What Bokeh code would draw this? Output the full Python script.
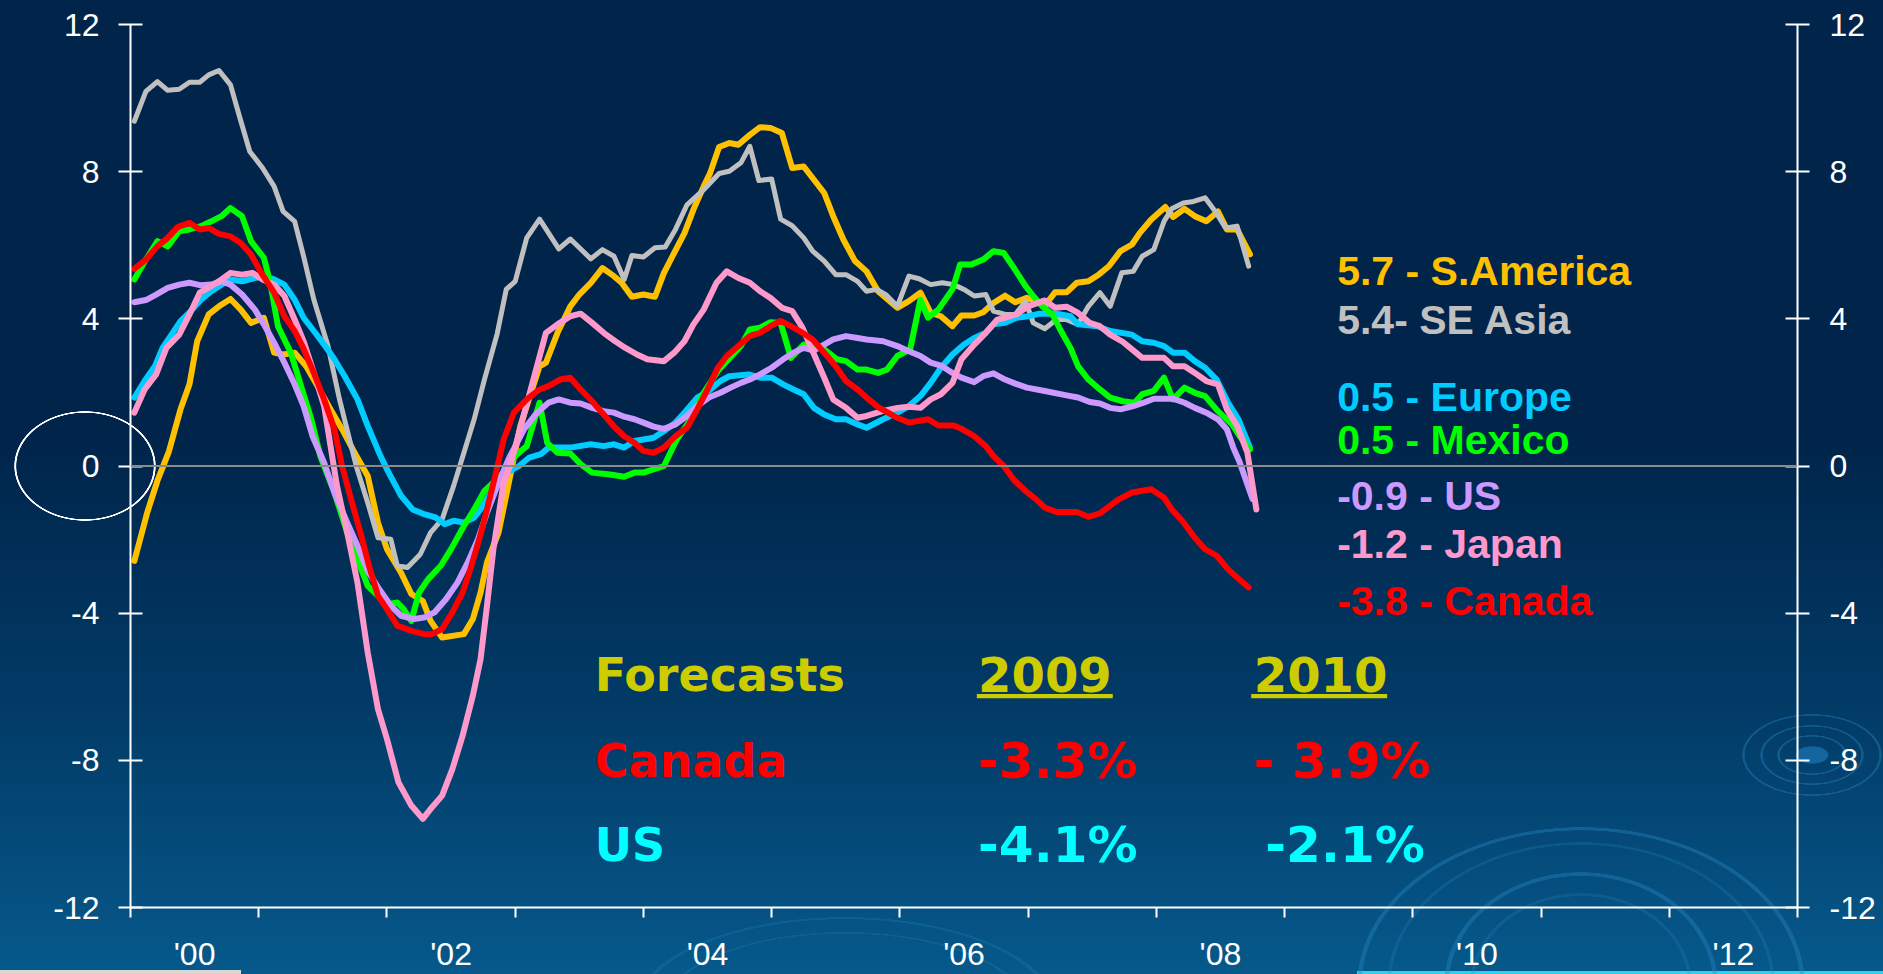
import numpy as np
from bokeh.plotting import figure
from bokeh.models import Range1d, LinearAxis, FixedTicker, Span, Label, BoxAnnotation
from bokeh.embed import file_html
from bokeh.resources import INLINE

# ---------------- data (decimal years, % y/y) ----------------
sam_x = [2000.03, 2000.13, 2000.21, 2000.30, 2000.39, 2000.46, 2000.52, 2000.61, 2000.69, 2000.78, 2000.86, 2000.94,
         2001.04, 2001.12, 2001.19, 2001.28, 2001.37, 2001.46, 2001.56, 2001.65, 2001.74, 2001.85, 2001.93, 2002.00,
         2002.11, 2002.19, 2002.28, 2002.34, 2002.43, 2002.60, 2002.67, 2002.73, 2002.78, 2002.87, 2002.94, 2003.04,
         2003.19, 2003.24, 2003.33, 2003.43, 2003.50, 2003.59, 2003.68, 2003.77, 2003.83, 2003.91, 2004.00, 2004.09,
         2004.16, 2004.24, 2004.32, 2004.39, 2004.47, 2004.52, 2004.59, 2004.67, 2004.74, 2004.83, 2004.91, 2004.99,
         2005.08, 2005.16, 2005.25, 2005.33, 2005.41, 2005.48, 2005.56, 2005.65, 2005.74, 2005.83, 2005.98, 2006.07,
         2006.16, 2006.24, 2006.32, 2006.41, 2006.48, 2006.58, 2006.65, 2006.73, 2006.82, 2006.90, 2006.99, 2007.07,
         2007.13, 2007.21, 2007.30, 2007.38, 2007.47, 2007.55, 2007.63, 2007.72, 2007.81, 2007.87, 2007.96, 2008.07,
         2008.13, 2008.22, 2008.30, 2008.39, 2008.48, 2008.55, 2008.63, 2008.73]
sam_y = [-2.58, -1.27, -0.4, 0.4, 1.54, 2.22, 3.39, 4.12, 4.34, 4.54, 4.25, 3.89,
         4.03, 3.08, 3.03, 3.08, 2.71, 2.17, 1.54, 1.0, 0.41, -0.27, -1.54, -2.26,
         -2.9, -3.48, -3.67, -4.21, -4.66, -4.57, -4.16, -3.44, -2.62, -1.81, -0.63, 1.09,
         2.71, 2.81, 3.62, 4.34, 4.66, 4.98, 5.38, 5.16, 4.98, 4.6, 4.66, 4.6,
         5.25, 5.79, 6.33, 6.97, 7.6, 7.96, 8.67, 8.78, 8.73, 9.0, 9.21, 9.19,
         9.05, 8.1, 8.14, 7.78, 7.42, 6.79, 6.15, 5.57, 5.29, 4.75, 4.3, 4.48,
         4.71, 4.16, 4.07, 3.8, 4.09, 4.09, 4.18, 4.43, 4.63, 4.45, 4.57, 4.45,
         4.36, 4.72, 4.72, 4.98, 5.02, 5.2, 5.43, 5.84, 6.02, 6.33, 6.7, 7.04,
         6.77, 6.99, 6.79, 6.65, 6.92, 6.43, 6.43, 5.75]

sea_x = [2000.03, 2000.12, 2000.21, 2000.29, 2000.38, 2000.46, 2000.54, 2000.61, 2000.69, 2000.78, 2000.85, 2000.93,
         2001.03, 2001.12, 2001.19, 2001.28, 2001.35, 2001.43, 2001.54, 2001.63, 2001.76, 2001.85, 2001.93, 2002.03,
         2002.08, 2002.16, 2002.26, 2002.34, 2002.43, 2002.52, 2002.60, 2002.68, 2002.76, 2002.86, 2002.93, 2003.00,
         2003.09, 2003.19, 2003.34, 2003.43, 2003.59, 2003.68, 2003.77, 2003.85, 2003.91, 2004.00, 2004.09, 2004.17,
         2004.25, 2004.34, 2004.47, 2004.59, 2004.67, 2004.76, 2004.83, 2004.90, 2005.00, 2005.07, 2005.16, 2005.25,
         2005.32, 2005.41, 2005.50, 2005.58, 2005.67, 2005.74, 2005.82, 2005.89, 2005.98, 2006.07, 2006.15, 2006.24,
         2006.33, 2006.42, 2006.50, 2006.58, 2006.67, 2006.73, 2006.82, 2006.90, 2006.98, 2007.04, 2007.13, 2007.22,
         2007.30, 2007.39, 2007.47, 2007.56, 2007.64, 2007.73, 2007.82, 2007.89, 2007.98, 2008.06, 2008.12, 2008.21,
         2008.29, 2008.38, 2008.46, 2008.54, 2008.63, 2008.72]
sea_y = [9.37, 10.18, 10.45, 10.21, 10.24, 10.43, 10.43, 10.63, 10.75, 10.36, 9.5, 8.55,
         8.1, 7.6, 6.92, 6.65, 5.7, 4.52, 3.26, 1.81, 0.0, -1.0, -1.95, -1.99,
         -2.71, -2.76, -2.4, -1.81, -1.45, -0.54, 0.36, 1.27, 2.35, 3.6, 4.8, 5.02,
         6.2, 6.71, 5.9, 6.17, 5.63, 5.88, 5.7, 5.07, 5.72, 5.68, 5.93, 5.95,
         6.43, 7.1, 7.51, 7.95, 8.01, 8.24, 8.69, 7.76, 7.8, 6.71, 6.53, 6.2,
         5.84, 5.57, 5.2, 5.2, 5.02, 4.75, 4.8, 4.66, 4.34, 5.16, 5.09, 4.93,
         4.98, 4.93, 4.8, 4.62, 4.66, 4.21, 4.12, 4.12, 4.48, 3.89, 3.73, 3.98,
         3.98, 3.85, 4.34, 4.71, 4.34, 5.25, 5.29, 5.7, 5.88, 6.65, 6.99, 7.15,
         7.19, 7.29, 6.92, 6.47, 6.52, 5.43]

eur_x = [2000.03, 2000.11, 2000.19, 2000.25, 2000.32, 2000.39, 2000.47, 2000.55, 2000.63, 2000.71, 2000.78, 2000.87,
         2000.97, 2001.04, 2001.12, 2001.20, 2001.28, 2001.35, 2001.43, 2001.51, 2001.59, 2001.67, 2001.77, 2001.85,
         2001.95, 2002.00, 2002.11, 2002.20, 2002.29, 2002.38, 2002.45, 2002.52, 2002.60, 2002.68, 2002.73, 2002.81,
         2002.89, 2003.03, 2003.11, 2003.20, 2003.26, 2003.43, 2003.59, 2003.69, 2003.77, 2003.85, 2003.93, 2004.08,
         2004.16, 2004.25, 2004.33, 2004.42, 2004.51, 2004.60, 2004.67, 2004.82, 2004.91, 2005.00, 2005.09, 2005.17,
         2005.25, 2005.33, 2005.41, 2005.50, 2005.58, 2005.67, 2005.74, 2005.87, 2005.98, 2006.07, 2006.16, 2006.24,
         2006.32, 2006.41, 2006.50, 2006.58, 2006.67, 2006.73, 2006.82, 2006.91, 2007.00, 2007.09, 2007.22, 2007.33,
         2007.39, 2007.54, 2007.64, 2007.81, 2007.89, 2007.98, 2008.06, 2008.13, 2008.22, 2008.30, 2008.38, 2008.47,
         2008.56, 2008.64, 2008.73]
eur_y = [1.86, 2.31, 2.71, 3.21, 3.57, 3.94, 4.21, 4.52, 4.75, 4.93, 5.07, 5.02,
         5.11, 5.16, 5.07, 4.93, 4.52, 4.03, 3.67, 3.3, 2.9, 2.44, 1.81, 1.09,
         0.27, -0.09, -0.81, -1.18, -1.31, -1.4, -1.58, -1.49, -1.54, -1.4, -1.18, -0.72,
         -0.27, 0.0, 0.23, 0.32, 0.5, 0.5, 0.59, 0.54, 0.59, 0.5, 0.68, 0.77,
         0.95, 1.18, 1.49, 1.86, 2.04, 2.31, 2.44, 2.49, 2.4, 2.4, 2.22, 2.08,
         1.95, 1.58, 1.4, 1.27, 1.27, 1.13, 1.04, 1.27, 1.45, 1.63, 1.9, 2.26,
         2.67, 3.03, 3.3, 3.48, 3.62, 3.85, 3.89, 4.03, 4.07, 4.14, 4.14, 4.07,
         3.85, 3.8, 3.67, 3.57, 3.39, 3.35, 3.26, 3.08, 3.08, 2.85, 2.67, 2.35,
         1.72, 1.27, 0.5]

mex_x = [2000.03, 2000.12, 2000.21, 2000.29, 2000.38, 2000.46, 2000.55, 2000.63, 2000.71, 2000.78, 2000.87, 2000.94,
         2001.04, 2001.09, 2001.15, 2001.25, 2001.33, 2001.41, 2001.48, 2001.59, 2001.69, 2001.77, 2001.85, 2001.93,
         2002.00, 2002.08, 2002.13, 2002.19, 2002.25, 2002.32, 2002.42, 2002.50, 2002.60, 2002.68, 2002.76, 2002.83,
         2002.91, 2003.00, 2003.09, 2003.19, 2003.25, 2003.33, 2003.43, 2003.51, 2003.60, 2003.74, 2003.85, 2003.93,
         2004.00, 2004.16, 2004.26, 2004.37, 2004.47, 2004.58, 2004.65, 2004.76, 2004.83, 2004.91, 2004.99, 2005.07,
         2005.15, 2005.25, 2005.34, 2005.41, 2005.51, 2005.58, 2005.67, 2005.74, 2005.83, 2005.90, 2005.98, 2006.08,
         2006.16, 2006.22, 2006.30, 2006.41, 2006.47, 2006.56, 2006.65, 2006.73, 2006.81, 2006.89, 2006.98, 2007.04,
         2007.11, 2007.19, 2007.25, 2007.33, 2007.39, 2007.47, 2007.56, 2007.64, 2007.74, 2007.83, 2007.89, 2007.98,
         2008.06, 2008.13, 2008.22, 2008.30, 2008.38, 2008.48, 2008.59, 2008.65, 2008.73]
mex_y = [5.07, 5.61, 6.11, 5.97, 6.38, 6.43, 6.52, 6.65, 6.79, 7.01, 6.79, 6.11,
         5.66, 4.98, 3.8, 3.08, 2.17, 1.27, 0.27, -0.72, -1.81, -2.53, -3.26, -3.53,
         -3.76, -3.71, -3.89, -4.21, -3.44, -3.08, -2.71, -2.26, -1.63, -1.18, -0.68, -0.45,
         -0.18, 0.27, 0.54, 1.72, 0.63, 0.36, 0.34, 0.05, -0.18, -0.23, -0.29, -0.18,
         -0.18, 0.0, 0.72, 1.27, 1.99, 2.58, 2.85, 3.26, 3.71, 3.76, 3.91, 3.89,
         2.94, 3.3, 3.26, 3.17, 2.9, 2.85, 2.62, 2.62, 2.53, 2.62, 2.99, 3.17,
         4.52, 4.03, 4.25, 4.8, 5.48, 5.48, 5.61, 5.84, 5.79, 5.38, 4.89, 4.62,
         4.34, 4.12, 3.71, 3.21, 2.71, 2.35, 2.08, 1.86, 1.76, 1.72, 1.95, 2.04,
         2.4, 1.81, 2.13, 1.99, 1.9, 1.49, 1.13, 0.81, 0.45]

us_x = [2000.03, 2000.12, 2000.20, 2000.29, 2000.38, 2000.46, 2000.55, 2000.63, 2000.71, 2000.78, 2000.87, 2000.97,
        2001.04, 2001.12, 2001.20, 2001.28, 2001.35, 2001.42, 2001.51, 2001.59, 2001.69, 2001.77, 2001.85, 2001.94,
        2002.03, 2002.11, 2002.21, 2002.29, 2002.37, 2002.46, 2002.55, 2002.63, 2002.71, 2002.78, 2002.86, 2002.95,
        2003.07, 2003.17, 2003.26, 2003.34, 2003.43, 2003.51, 2003.60, 2003.69, 2003.77, 2003.85, 2003.93, 2004.00,
        2004.08, 2004.16, 2004.25, 2004.34, 2004.42, 2004.51, 2004.60, 2004.68, 2004.76, 2004.83, 2004.91, 2005.00,
        2005.09, 2005.17, 2005.25, 2005.33, 2005.41, 2005.48, 2005.58, 2005.67, 2005.74, 2005.87, 2005.98, 2006.07,
        2006.16, 2006.24, 2006.32, 2006.41, 2006.48, 2006.58, 2006.65, 2006.73, 2006.82, 2006.90, 2006.99, 2007.13,
        2007.30, 2007.39, 2007.48, 2007.56, 2007.64, 2007.72, 2007.82, 2007.90, 2007.98, 2008.13, 2008.22, 2008.30,
        2008.39, 2008.48, 2008.55, 2008.60, 2008.65, 2008.70, 2008.75]
us_y = [4.45, 4.51, 4.66, 4.84, 4.93, 4.98, 4.91, 4.93, 5.02, 4.93, 4.66, 4.25,
        3.85, 3.35, 2.81, 2.22, 1.63, 0.81, 0.09, -0.72, -1.54, -2.17, -2.85, -3.35,
        -3.8, -4.07, -4.16, -4.12, -3.98, -3.62, -3.17, -2.62, -1.99, -1.27, -0.54, 0.2,
        1.0, 1.45, 1.72, 1.81, 1.72, 1.7, 1.58, 1.49, 1.45, 1.34, 1.27, 1.18,
        1.07, 1.01, 1.13, 1.36, 1.63, 1.86, 1.99, 2.13, 2.26, 2.35, 2.49, 2.67,
        2.9, 3.08, 3.21, 3.14, 3.3, 3.44, 3.53, 3.48, 3.44, 3.39, 3.26, 3.12,
        2.99, 2.81, 2.73, 2.53, 2.4, 2.28, 2.44, 2.52, 2.35, 2.24, 2.13, 2.04,
        1.92, 1.86, 1.74, 1.7, 1.58, 1.54, 1.63, 1.72, 1.83, 1.83, 1.72, 1.58,
        1.45, 1.27, 1.0, 0.5, 0.1, -0.4, -0.9]

jpn_x = [2000.03, 2000.11, 2000.20, 2000.28, 2000.38, 2000.46, 2000.54, 2000.63, 2000.71, 2000.78, 2000.87, 2000.95,
         2001.03, 2001.12, 2001.20, 2001.28, 2001.35, 2001.43, 2001.51, 2001.56, 2001.61, 2001.69, 2001.77, 2001.85,
         2001.93, 2002.00, 2002.09, 2002.19, 2002.28, 2002.35, 2002.43, 2002.51, 2002.59, 2002.67, 2002.73, 2002.78,
         2002.83, 2002.91, 2002.96, 2003.24, 2003.33, 2003.43, 2003.51, 2003.60, 2003.69, 2003.78, 2003.86, 2003.95,
         2004.03, 2004.16, 2004.24, 2004.32, 2004.39, 2004.47, 2004.57, 2004.65, 2004.74, 2004.83, 2004.91, 2004.99,
         2005.08, 2005.16, 2005.24, 2005.32, 2005.41, 2005.48, 2005.58, 2005.67, 2005.74, 2005.87, 2005.98, 2006.07,
         2006.16, 2006.24, 2006.32, 2006.41, 2006.48, 2006.58, 2006.67, 2006.76, 2006.82, 2006.91, 2007.00, 2007.13,
         2007.21, 2007.30, 2007.39, 2007.48, 2007.56, 2007.64, 2007.74, 2007.81, 2007.89, 2008.06, 2008.13, 2008.22,
         2008.30, 2008.39, 2008.48, 2008.55, 2008.63, 2008.71, 2008.78]
jpn_y = [1.45, 2.08, 2.49, 3.21, 3.57, 4.12, 4.71, 4.89, 5.07, 5.25, 5.2, 5.25,
         5.07, 4.93, 4.62, 3.98, 3.39, 2.53, 1.63, 0.54, -0.54, -1.81, -3.17, -5.07,
         -6.61, -7.42, -8.6, -9.23, -9.59, -9.28, -8.96, -8.24, -7.33, -6.24, -5.25, -3.8,
         -2.26, -0.45, 0.0, 3.62, 3.85, 4.07, 4.14, 3.89, 3.62, 3.39, 3.21, 3.03,
         2.9, 2.85, 3.08, 3.39, 3.85, 4.25, 4.98, 5.29, 5.11, 4.98, 4.75, 4.57,
         4.3, 4.21, 3.76, 3.12, 2.4, 1.81, 1.58, 1.31, 1.36, 1.5, 1.58, 1.61,
         1.58, 1.81, 1.95, 2.26, 2.9, 3.3, 3.62, 3.98, 4.03, 4.12, 4.34, 4.5,
         4.3, 4.33, 4.16, 3.89, 3.8, 3.57, 3.37, 3.17, 2.94, 2.94, 2.71, 2.71,
         2.53, 2.31, 2.22, 1.54, 1.09, 0.36, -1.18]

can_x = [2000.03, 2000.12, 2000.21, 2000.29, 2000.37, 2000.46, 2000.54, 2000.61, 2000.69, 2000.78, 2000.86, 2000.94,
         2001.02, 2001.12, 2001.20, 2001.28, 2001.34, 2001.43, 2001.51, 2001.59, 2001.65, 2001.72, 2001.80, 2001.86,
         2001.93, 2002.00, 2002.08, 2002.19, 2002.29, 2002.35, 2002.43, 2002.51, 2002.59, 2002.65, 2002.72, 2002.78,
         2002.85, 2002.91, 2002.99, 2003.09, 2003.19, 2003.26, 2003.35, 2003.43, 2003.51, 2003.60, 2003.69, 2003.78,
         2003.85, 2003.93, 2004.00, 2004.08, 2004.16, 2004.25, 2004.34, 2004.42, 2004.50, 2004.58, 2004.65, 2004.74,
         2004.83, 2004.91, 2004.99, 2005.07, 2005.15, 2005.24, 2005.32, 2005.41, 2005.50, 2005.58, 2005.67, 2005.74,
         2005.83, 2005.98, 2006.07, 2006.22, 2006.30, 2006.42, 2006.48, 2006.58, 2006.67, 2006.73, 2006.81, 2006.89,
         2006.98, 2007.06, 2007.13, 2007.22, 2007.38, 2007.47, 2007.56, 2007.70, 2007.81, 2007.96, 2008.06, 2008.12,
         2008.21, 2008.30, 2008.38, 2008.47, 2008.56, 2008.63, 2008.72]
can_y = [5.36, 5.61, 5.97, 6.2, 6.5, 6.61, 6.43, 6.47, 6.31, 6.24, 6.06, 5.75,
         5.25, 4.71, 4.07, 3.67, 3.26, 2.53, 1.81, 1.0, 0.0, -0.9, -1.9, -2.71,
         -3.53, -3.89, -4.34, -4.48, -4.57, -4.57, -4.43, -3.98, -3.44, -2.81, -1.99, -1.18,
         -0.18, 0.72, 1.45, 1.81, 2.08, 2.17, 2.35, 2.4, 2.08, 1.76, 1.4, 1.04,
         0.81, 0.63, 0.41, 0.36, 0.5, 0.81, 1.04, 1.54, 2.08, 2.67, 2.99, 3.26,
         3.53, 3.62, 3.8, 3.94, 3.8, 3.62, 3.44, 3.08, 2.71, 2.31, 2.08, 1.86,
         1.6, 1.31, 1.18, 1.27, 1.1, 1.1, 1.01, 0.81, 0.54, 0.27, 0.0, -0.38,
         -0.68, -0.9, -1.13, -1.25, -1.25, -1.38, -1.29, -0.92, -0.72, -0.63, -0.86, -1.18,
         -1.52, -1.95, -2.26, -2.44, -2.81, -3.03, -3.3]

# region labels and forecast table
end_labels = ["5.7 - S.America", "5.4- SE Asia", "0.5 - Europe", "0.5 - Mexico",
              "-0.9 - US", "-1.2 - Japan", "-3.8 - Canada"]
end_label_y = [5.30, 3.98, 1.88, 0.72, -0.82, -2.13, -3.67]
fc_header = ["Forecasts", "2009", "2010"]
fc_canada = ["Canada", "-3.3%", "- 3.9%"]
fc_us = ["US", "-4.1%", "-2.1%"]

x_ticks = list(range(2000, 2014))
x_tick_labels = ["'00", "'02", "'04", "'06", "'08", "'10", "'12"]
y_ticks = [-12, -8, -4, 0, 4, 8, 12]


# ---------------- background decoration (CSS layers) ----------------
def ring(cx, cy, rx, ry, th, col):
    return (f"radial-gradient({rx}px {ry}px at {cx}px {cy}px, transparent {rx - th}px, "
            f"{col} {rx - th + 0.6}px, {col} {rx - 0.6}px, transparent {rx}px) no-repeat")


def blob(cx, cy, rx, ry, col):
    return f"radial-gradient({rx}px {ry}px at {cx}px {cy}px, {col} {rx - 1.5}px, transparent {rx}px) no-repeat"


rip = "rgba(40,135,195,0.38)"
rip2 = "rgba(40,135,195,0.22)"
layers = [
    ring(85, 466, 71, 55, 2.6, "#ffffff"),                  # oval around the zero label
    ring(1812, 755, 70, 41, 3, rip), ring(1812, 755, 52, 30, 3, rip),
    ring(1812, 755, 35, 20, 3, rip), blob(1812, 755, 17, 9, "rgba(25,110,170,0.8)"),
    ring(1581, 985, 224, 158, 5, rip), ring(1581, 985, 194, 143, 4, rip2),
    ring(1581, 985, 137, 113, 5, rip), ring(1581, 985, 111, 92, 4, rip2),
    ring(845, 1012, 212, 95, 5, rip2), ring(845, 1012, 185, 80, 4, rip2),
    "linear-gradient(#d8d8d8, #d8d8d8) 0px 970px / 241px 4px no-repeat",
    "linear-gradient(#2cd3e6, #2cd3e6) 1357px 971px / 526px 3px no-repeat",
    "linear-gradient(180deg, #00244a 0%, #00244a 44%, #023a66 72%, #06598b 100%)",
]

# ---------------- figure ----------------
p = figure(width=1883, height=974, x_range=Range1d(2000, 2013), y_range=Range1d(-12, 12),
           output_backend="svg", toolbar_location=None, title=None,
           min_border_left=130, min_border_right=86, min_border_top=24, min_border_bottom=66)
p.border_fill_color = None
p.background_fill_color = None
p.outline_line_color = None
p.styles = {"background": ", ".join(layers)}
p.xgrid.visible = False
p.ygrid.visible = False

TICK_FONT = "Liberation Sans"

# x axis: ticks at year boundaries, labels at mid-year of even years
xa = p.xaxis[0]
xa.ticker = FixedTicker(ticks=[y + 0.5 for y in range(2000, 2013, 2)], minor_ticks=x_ticks)
xa.major_label_overrides = {y + 0.5: lab for y, lab in zip(range(2000, 2013, 2), x_tick_labels)}
xa.major_tick_out = 0
xa.major_tick_in = 0
xa.minor_tick_out = 10
xa.minor_tick_in = 0
xa.minor_tick_line_color = "white"
xa.minor_tick_line_width = 2
xa.axis_line_color = "white"
xa.axis_line_width = 2
xa.major_label_text_color = "white"
xa.major_label_text_font = TICK_FONT
xa.major_label_text_font_size = "32px"
xa.major_label_standoff = 18

ya = p.yaxis[0]
ra = LinearAxis()
p.add_layout(ra, "right")
for ax, so in ((ya, 19), (ra, 20)):
    ax.ticker = FixedTicker(ticks=y_ticks, minor_ticks=[])
    ax.major_label_overrides = {t: str(t) for t in y_ticks}
    ax.major_tick_in = 12
    ax.major_tick_out = 12
    ax.major_tick_line_color = "white"
    ax.major_tick_line_width = 2
    ax.minor_tick_line_color = None
    ax.axis_line_color = "white"
    ax.axis_line_width = 2
    ax.major_label_text_color = "white"
    ax.major_label_text_font = TICK_FONT
    ax.major_label_text_font_size = "32px"
    ax.major_label_standoff = so

p.add_layout(Span(location=0, dimension="width", line_color="#8a8a8a", line_width=2))

series = [
    (sam_x, sam_y, "#FFC000", 6),
    (sea_x, sea_y, "#C0C0C0", 5),
    (eur_x, eur_y, "#00CCFF", 6),
    (mex_x, mex_y, "#00FF00", 6),
    (us_x, us_y, "#CC99FF", 6),
    (jpn_x, jpn_y, "#FF99CC", 6),
    (can_x, can_y, "#FF0000", 6),
]
for xs, ys, col, w in series:
    p.line(xs, ys, line_color=col, line_width=w, line_join="round", line_cap="round")

# end-of-series labels
end_cols = ["#FFC000", "#C0C0C0", "#00CCFF", "#00FF00", "#CC99FF", "#FF99CC", "#FF0000"]
for txt, yv, col in zip(end_labels, end_label_y, end_cols):
    p.add_layout(Label(x=2009.41, y=yv, text=txt, text_color=col, text_font="Liberation Sans",
                       text_font_style="bold", text_font_size="41px", text_baseline="middle"))

# forecast table
col_x = [2003.62, 2006.61, 2008.76]
rows = [(fc_header, -5.67, "#CCCC00"), (fc_canada, -8.02, "#FF0000"), (fc_us, -10.31, "#00FFFF")]
for texts, yv, col in rows:
    for i, (txt, xv) in enumerate(zip(texts, col_x)):
        if texts is fc_us and i == 2:
            xv = 2008.85
        size = "46px" if i == 0 else ("48px" if texts is fc_header else "50px")
        p.add_layout(Label(x=xv, y=yv, text=txt, text_color=col, text_font="DejaVu Sans",
                           text_font_style="bold", text_font_size=size, text_baseline="middle"))
for lft, rgt in ((2006.60, 2007.66), (2008.74, 2009.80)):
    p.add_layout(BoxAnnotation(left=lft, right=rgt, top=-6.20, bottom=-6.31,
                               fill_color="#CCCC00", fill_alpha=1, line_color=None))

open("out.html", "w").write(file_html(p, INLINE))
